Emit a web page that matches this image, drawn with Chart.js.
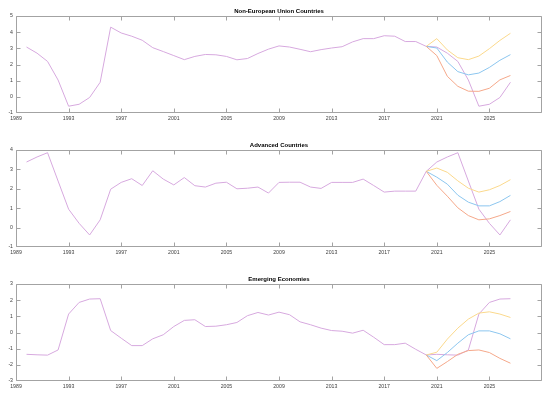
<!DOCTYPE html>
<html>
<head>
<meta charset="utf-8">
<script src="https://cdn.jsdelivr.net/npm/chart.js@4/dist/chart.umd.min.js"></script>
<style>
    html, body { margin: 0; padding: 0; background: #fff; }
    #wrap { position: relative; width: 550px; height: 395px; }
    canvas { position: absolute; left: 0; }
</style>
</head>
<body>
<div id="wrap">
    <canvas id="c1" width="550" height="127" style="top:0px"></canvas>
    <canvas id="c2" width="550" height="127" style="top:134px"></canvas>
    <canvas id="c3" width="550" height="127" style="top:268px"></canvas>
</div>
<script>
// x tick labels (one every 5 observations)
const tickLabels = ['1989', '1993', '1997', '2001', '2005', '2009', '2013', '2017', '2021', '2025'];
const forecastStart = 39; // observation where the scenario lines branch off

// Non-European Union Countries
const nonEuMain = [3.08, 2.7, 2.19, 1.04, -0.58, -0.46, -0.04, 0.9, 4.31, 3.95,
    3.75, 3.5, 3.04, 2.8, 2.55, 2.3, 2.5, 2.62, 2.6, 2.5,
    2.29, 2.37, 2.68, 2.95, 3.15, 3.08, 2.94, 2.79, 2.92, 3.02,
    3.1, 3.4, 3.6, 3.6, 3.78, 3.75, 3.42, 3.42, 3.12,
    3.08, 2.7, 2.19, 1.04, -0.58, -0.46, -0.04, 0.9];
const nonEuHigh = [3.12, 3.6, 2.9, 2.42, 2.3, 2.52, 2.98, 3.49, 3.93];
const nonEuBase = [3.12, 3.02, 2.15, 1.56, 1.36, 1.47, 1.82, 2.26, 2.61];
const nonEuLow = [3.12, 2.55, 1.27, 0.65, 0.35, 0.34, 0.53, 1.05, 1.32];

// Advanced Countries
const advMain = [3.38, 3.64, 3.86, 2.4, 0.95, 0.22, -0.38, 0.4, 1.98, 2.33,
    2.52, 2.17, 2.93, 2.5, 2.2, 2.58, 2.16, 2.09, 2.29, 2.34,
    2.0, 2.03, 2.09, 1.78, 2.33, 2.34, 2.34, 2.09, 2.02, 2.33,
    2.33, 2.33, 2.5, 2.17, 1.83, 1.88, 1.88, 1.88, 2.9,
    3.38, 3.64, 3.86, 2.4, 0.95, 0.22, -0.38, 0.4];
const advHigh = [2.9, 3.07, 2.85, 2.41, 2.03, 1.83, 1.95, 2.17, 2.47];
const advBase = [2.9, 2.6, 2.24, 1.67, 1.31, 1.12, 1.12, 1.34, 1.66];
const advLow = [2.9, 2.18, 1.62, 1.02, 0.62, 0.4, 0.45, 0.62, 0.83];

// Emerging Economies
const emgMain = [-1.35, -1.38, -1.4, -1.08, 1.14, 1.86, 2.07, 2.09, 0.12, -0.35,
    -0.81, -0.81, -0.39, -0.14, 0.37, 0.75, 0.79, 0.37, 0.39, 0.48,
    0.62, 1.04, 1.24, 1.08, 1.26, 1.1, 0.66, 0.48, 0.27, 0.12,
    0.08, -0.04, 0.14, -0.29, -0.75, -0.75, -0.66, -1.04, -1.39,
    -1.35, -1.38, -1.4, -1.08, 1.14, 1.86, 2.07, 2.09];
const emgHigh = [-1.39, -1.22, -0.41, 0.27, 0.83, 1.2, 1.28, 1.14, 0.93];
const emgBase = [-1.39, -1.74, -1.24, -0.66, -0.14, 0.1, 0.1, -0.08, -0.39];
const emgLow = [-1.39, -2.22, -1.8, -1.35, -1.12, -1.08, -1.24, -1.6, -1.9];

const COLORS = { main: '#d7a9df', high: '#fbd98c', base: '#8cc6ef', low: '#f5a88a' };
const FONT = '"Liberation Sans", Arial, sans-serif';

// box, inner tick marks and title like the matlab axes
const axesBox = {
    id: 'axesBox',
    afterDraw(chart, args, opts) {
        const { ctx, chartArea: a, scales: { x, y } } = chart;
        const L = Math.round(a.left) + 0.5, R = Math.round(a.right) - 0.5;
        const T = Math.round(a.top) + 0.5, B = Math.round(a.bottom) - 0.5;
        const clamp = (v, lo, hi) => Math.min(hi, Math.max(lo, v));
        ctx.save();
        ctx.strokeStyle = '#a3a3a3';
        ctx.lineWidth = 1;
        ctx.beginPath();
        ctx.rect(L, T, R - L, B - T);
        x.ticks.forEach(t => {
            const px = clamp(Math.round(x.getPixelForValue(t.value)) + 0.5, L, R);
            ctx.moveTo(px, B); ctx.lineTo(px, B - 4);
            ctx.moveTo(px, T); ctx.lineTo(px, T + 4);
        });
        y.ticks.forEach(t => {
            const py = clamp(Math.round(y.getPixelForValue(t.value)) + 0.5, T, B);
            ctx.moveTo(L, py); ctx.lineTo(L + 4, py);
            ctx.moveTo(R, py); ctx.lineTo(R - 4, py);
        });
        ctx.stroke();
        ctx.fillStyle = '#000';
        ctx.font = 'bold 6px ' + FONT;
        ctx.textAlign = 'center';
        ctx.textBaseline = 'middle';
        ctx.fillText(opts.text, (a.left + a.right) / 2, a.top - 4.5);
        ctx.restore();
    }
};

function toPoints(values, start) {
    return values.map((v, i) => ({ x: start + i, y: v }));
}

function line(data, color) {
    return { data, borderColor: color, borderWidth: 1, pointRadius: 0, tension: 0, fill: false };
}

function makeChart(id, title, main, high, base, low, yMin, yMax) {
    const tickFont = { family: FONT, size: 5.2 };
    new Chart(document.getElementById(id), {
        type: 'line',
        data: {
            datasets: [
                line(toPoints(low, forecastStart), COLORS.low),
                line(toPoints(high, forecastStart), COLORS.high),
                line(toPoints(base, forecastStart), COLORS.base),
                line(toPoints(main, 1), COLORS.main)
            ]
        },
        options: {
            responsive: false,
            animation: false,
            devicePixelRatio: 1,
            layout: { padding: { top: 16, right: 8, bottom: 0, left: 0 } },
            plugins: {
                legend: { display: false },
                tooltip: { enabled: false },
                axesBox: { text: title }
            },
            scales: {
                x: {
                    type: 'linear',
                    min: 0,
                    max: 50,
                    grid: { display: false, drawTicks: false },
                    border: { display: false },
                    afterBuildTicks: (scale) => {
                        scale.ticks = tickLabels.map((_, i) => ({ value: i * 5 }));
                    },
                    afterFit: (scale) => { scale.height = 14; },
                    ticks: {
                        autoSkip: false,
                        maxRotation: 0,
                        padding: 2.5,
                        color: '#404040',
                        font: tickFont,
                        callback: (v, i) => tickLabels[i]
                    }
                },
                y: {
                    min: yMin,
                    max: yMax,
                    grid: { display: false, drawTicks: false },
                    border: { display: false },
                    afterFit: (scale) => { scale.width = 16; },
                    ticks: { stepSize: 1, padding: 3, color: '#404040', font: tickFont }
                }
            }
        },
        plugins: [axesBox]
    });
}

makeChart('c1', 'Non-European Union Countries', nonEuMain, nonEuHigh, nonEuBase, nonEuLow, -1, 5);
makeChart('c2', 'Advanced Countries', advMain, advHigh, advBase, advLow, -1, 4);
makeChart('c3', 'Emerging Economies', emgMain, emgHigh, emgBase, emgLow, -3, 3);
</script>
</body>
</html>
